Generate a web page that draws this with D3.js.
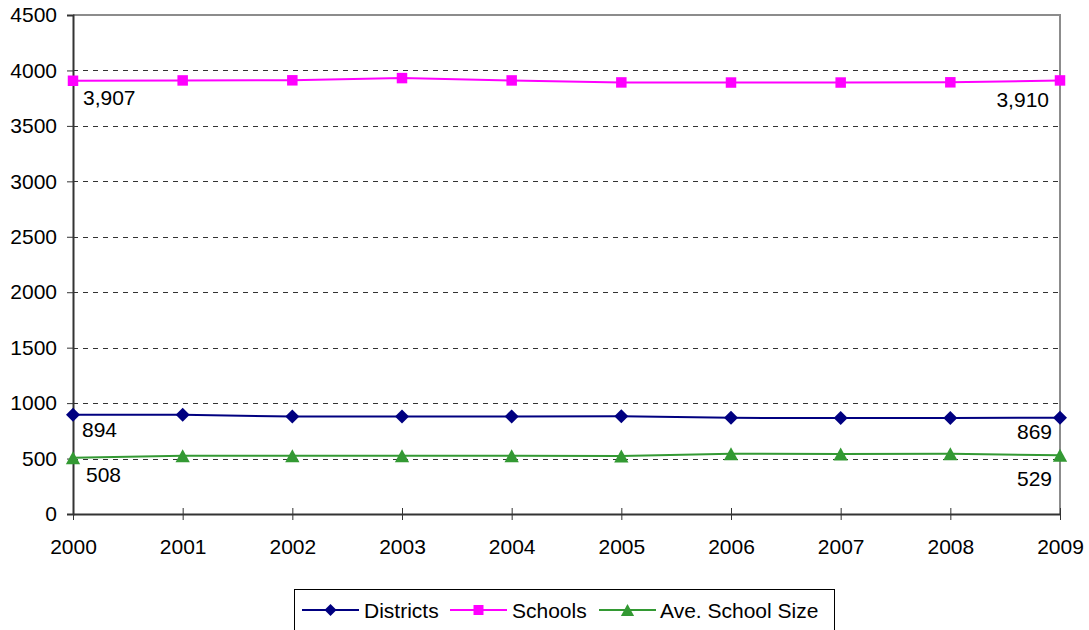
<!DOCTYPE html>
<html>
<head>
<meta charset="utf-8">
<script src="https://cdn.jsdelivr.net/npm/d3@7"></script>
<style>
  html, body { margin: 0; padding: 0; background: #fff; }
  svg { display: block; font-family: "Liberation Sans", Arial, sans-serif; }
</style>
</head>
<body>
<svg id="chart" width="1089" height="630"></svg>
<script>
// Years on the x axis
const years = [2000, 2001, 2002, 2003, 2004, 2005, 2006, 2007, 2008, 2009];
// Series values
const districts = [894, 894, 880, 880, 880, 881, 867, 866, 866, 869];
const schools = [3907, 3910, 3911, 3931, 3910, 3892, 3891, 3891, 3893, 3910];
const aveSchoolSize = [508, 525, 525, 525, 525, 523, 543, 542, 543, 529];
// Y axis ticks
const yTicks = [0, 500, 1000, 1500, 2000, 2500, 3000, 3500, 4000, 4500];

// Marker shapes centred on their bounding box
const diamondShape = {
  draw(ctx, size) {
    const r = Math.sqrt(size) / 2;
    ctx.moveTo(0, -r); ctx.lineTo(r, 0); ctx.lineTo(0, r); ctx.lineTo(-r, 0); ctx.closePath();
  }
};
const triangleShape = {
  draw(ctx, size) {
    const h = Math.sqrt(size);
    const w = h * 1.1;
    ctx.moveTo(0, -h / 2); ctx.lineTo(w / 2, h / 2); ctx.lineTo(-w / 2, h / 2); ctx.closePath();
  }
};
const squareShape = {
  draw(ctx, size) {
    const r = Math.sqrt(size) / 2;
    ctx.rect(-r, -r, 2 * r, 2 * r);
  }
};

const series = [
  { name: "Districts", values: districts, color: "#000080", symbol: diamondShape, size: 196, legendSize: 144,
    labelFirst: "894", labelLast: "869", firstDx: 9, firstDy: 22, lastDx: -8, lastDy: 21 },
  { name: "Schools", values: schools, color: "#FF00FF", symbol: squareShape, size: 110, legendSize: 100,
    labelFirst: "3,907", labelLast: "3,910", firstDx: 10, firstDy: 24, lastDx: -11, lastDy: 27 },
  { name: "Ave. School Size", values: aveSchoolSize, color: "#339933", symbol: triangleShape, size: 169, legendSize: 144,
    labelFirst: "508", labelLast: "529", firstDx: 13, firstDy: 24, lastDx: -8, lastDy: 31 }
];

const svg = d3.select("#chart");
const plotLeft = 73, plotRight = 1060, plotTop = 15, plotBottom = 514;
const fontSize = 21;

const x = d3.scalePoint().domain(years).range([plotLeft, plotRight]);
const y = d3.scaleLinear().domain([0, 4500]).range([plotBottom, plotTop]);

// Dashed gridlines
svg.append("g")
  .selectAll("line")
  .data(yTicks.filter(t => t > 0 && t < 4500))
  .join("line")
  .attr("x1", plotLeft).attr("x2", plotRight)
  .attr("y1", d => Math.round(y(d)) + 0.5).attr("y2", d => Math.round(y(d)) + 0.5)
  .attr("stroke", "#333")
  .attr("stroke-width", 1)
  .attr("stroke-dasharray", "5,5");

// Plot frame: top and right edges in gray
svg.append("path")
  .attr("d", `M${plotLeft},${plotTop}H${plotRight}V${plotBottom}`)
  .attr("fill", "none")
  .attr("stroke", "#8c8c8c")
  .attr("stroke-width", 2);

// Y axis
const yAxis = svg.append("g")
  .attr("transform", `translate(${plotLeft},0)`)
  .call(d3.axisLeft(y).tickValues(yTicks).tickSize(6).tickPadding(10).tickFormat(d3.format("d")));
yAxis.select(".domain").attr("stroke", "#333").attr("stroke-width", 2);
yAxis.selectAll(".tick line").attr("stroke", "#333").attr("stroke-width", 1);
yAxis.selectAll("text").attr("font-size", fontSize).attr("fill", "#000")
  .attr("font-family", "'Liberation Sans', Arial, sans-serif");

// X axis with crossing tick marks
const xAxis = svg.append("g")
  .attr("transform", `translate(0,${plotBottom})`)
  .call(d3.axisBottom(x).tickSizeInner(6).tickSizeOuter(0).tickPadding(19).tickFormat(d3.format("d")));
xAxis.select(".domain").attr("stroke", "#333").attr("stroke-width", 2);
xAxis.selectAll(".tick line").attr("y1", -6).attr("y2", 6).attr("stroke", "#333").attr("stroke-width", 1);
xAxis.selectAll("text").attr("font-size", fontSize).attr("fill", "#000")
  .attr("font-family", "'Liberation Sans', Arial, sans-serif");

// Lines and markers
const line = d3.line().x((d, i) => x(years[i])).y(d => y(d));
series.forEach(s => {
  svg.append("path")
    .datum(s.values)
    .attr("d", line)
    .attr("fill", "none")
    .attr("stroke", s.color)
    .attr("stroke-width", 2);
  svg.append("g")
    .selectAll("path")
    .data(s.values)
    .join("path")
    .attr("transform", (d, i) => `translate(${x(years[i])},${y(d)})`)
    .attr("d", d3.symbol().type(s.symbol).size(s.size))
    .attr("fill", s.color);
});

// Value labels at the first and last points
const labelStyle = sel => sel.attr("font-size", fontSize).attr("fill", "#000");
series.forEach(s => {
  const n = s.values.length - 1;
  svg.append("text")
    .attr("x", x(years[0]) + s.firstDx)
    .attr("y", y(s.values[0]) + s.firstDy)
    .text(s.labelFirst)
    .call(labelStyle);
  svg.append("text")
    .attr("x", x(years[n]) + s.lastDx)
    .attr("y", y(s.values[n]) + s.lastDy)
    .attr("text-anchor", "end")
    .text(s.labelLast)
    .call(labelStyle);
});

// Legend
const legend = svg.append("g");
legend.append("rect")
  .attr("x", 294.5).attr("y", 589.5)
  .attr("width", 540).attr("height", 50)
  .attr("fill", "#fff")
  .attr("stroke", "#000")
  .attr("stroke-width", 1);
const legendItems = [
  { s: series[0], x0: 302, tx: 364 },
  { s: series[1], x0: 450, tx: 512 },
  { s: series[2], x0: 599, tx: 660 }
];
legendItems.forEach(it => {
  const ly = 610;
  legend.append("line")
    .attr("x1", it.x0).attr("x2", it.x0 + 57)
    .attr("y1", ly).attr("y2", ly)
    .attr("stroke", it.s.color).attr("stroke-width", 2);
  legend.append("path")
    .attr("transform", `translate(${it.x0 + 28.5},${ly})`)
    .attr("d", d3.symbol().type(it.s.symbol).size(it.s.legendSize))
    .attr("fill", it.s.color);
  legend.append("text")
    .attr("x", it.tx).attr("y", ly + 8)
    .text(it.s.name)
    .call(labelStyle);
});
</script>
</body>
</html>
